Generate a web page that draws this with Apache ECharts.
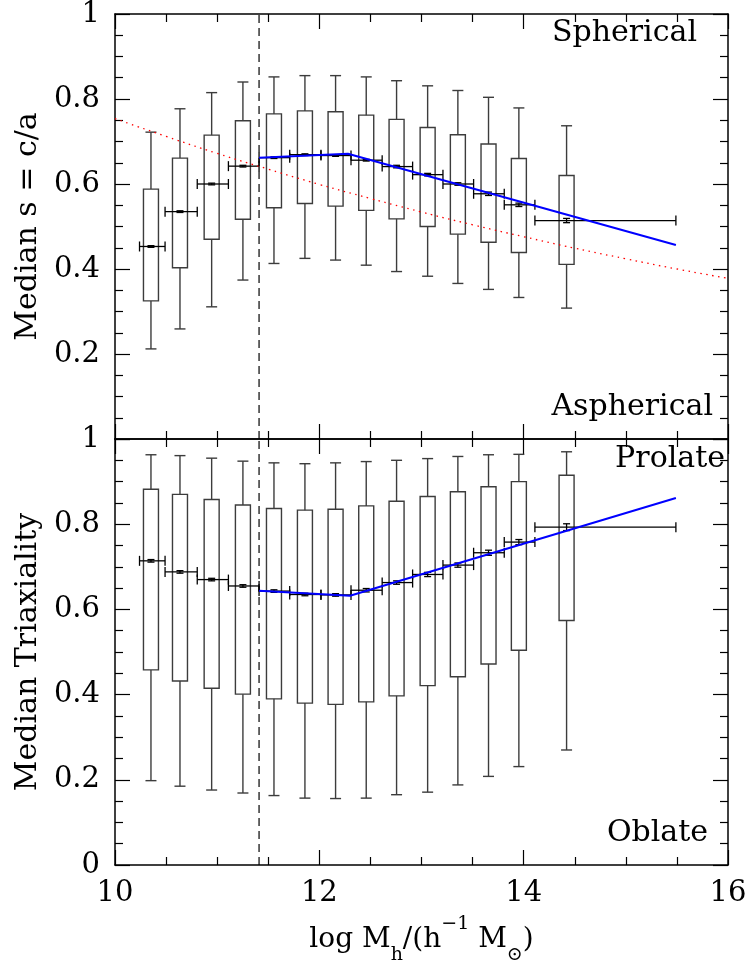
<!DOCTYPE html>
<html>
<head>
<meta charset="utf-8">
<script src="https://cdn.jsdelivr.net/npm/echarts@6.0.0/dist/echarts.min.js"></script>
<style>
html,body{margin:0;padding:0;background:#fff;}
#chart{width:750px;height:965px;}
</style>
</head>
<body>
<div id="chart"></div>
<script>
// ---- data ----
const binCenters = [10.352,10.636,10.946,11.252,11.556,11.859,12.159,12.459,12.756,13.06,13.356,13.656,13.953,14.42];
const binLo = [10.24,10.49,10.805,11.11,11.41,11.71,12.016,12.31,12.615,12.913,13.21,13.51,13.81,14.11];
const binHi = [10.49,10.805,11.11,11.41,11.71,12.016,12.31,12.615,12.913,13.21,13.51,13.81,14.11,15.49];

// top panel: s = c/a
const sWhiskerHi = [0.722,0.777,0.815,0.840,0.852,0.855,0.855,0.852,0.843,0.831,0.820,0.804,0.779,0.737];
const sQ3        = [0.588,0.661,0.715,0.749,0.765,0.772,0.770,0.762,0.752,0.733,0.716,0.694,0.660,0.620];
const sMedian    = [0.453,0.535,0.600,0.642,0.662,0.669,0.667,0.656,0.641,0.622,0.600,0.577,0.551,0.514];
const sQ1        = [0.325,0.403,0.470,0.517,0.544,0.554,0.548,0.538,0.518,0.500,0.482,0.463,0.439,0.411];
const sWhiskerLo = [0.212,0.259,0.311,0.374,0.413,0.425,0.421,0.409,0.394,0.383,0.366,0.352,0.333,0.308];
const sMedErr    = [0.002,0.002,0.002,0.002,0.002,0.002,0.002,0.002,0.003,0.003,0.003,0.004,0.004,0.005];

// bottom panel: triaxiality
const tWhiskerHi = [0.963,0.961,0.955,0.948,0.944,0.942,0.944,0.947,0.950,0.954,0.959,0.963,0.964,0.970];
const tQ3        = [0.882,0.870,0.858,0.845,0.837,0.833,0.835,0.843,0.854,0.865,0.876,0.888,0.900,0.915];
const tMedian    = [0.714,0.688,0.670,0.655,0.643,0.635,0.634,0.645,0.663,0.682,0.704,0.733,0.758,0.793];
const tQ1        = [0.458,0.432,0.415,0.401,0.390,0.380,0.377,0.383,0.397,0.421,0.442,0.472,0.504,0.574];
const tWhiskerLo = [0.198,0.185,0.176,0.169,0.163,0.157,0.156,0.157,0.165,0.171,0.188,0.208,0.231,0.270];
const tMedErr    = [0.003,0.003,0.003,0.003,0.003,0.003,0.003,0.004,0.004,0.005,0.005,0.006,0.006,0.008];

// blue fit lines
const sFitX = [11.41, 12.28, 15.49];
const sFitY = [0.662, 0.671, 0.4565];
const tFitX = [11.41, 12.30, 15.49];
const tFitY = [0.644, 0.632, 0.8615];

// red dotted curve (top panel)
const redX = [10,10.5,11,11.5,12,12.5,13,13.5,14,14.5,15,15.5,16];
const redY = [0.754,0.712,0.672,0.635,0.599,0.566,0.534,0.504,0.476,0.449,0.424,0.400,0.378];

// vertical dashed cut
const cutX = 11.41;

// axis ticks
const xTickInterval = 2;
const yTickInterval = 0.2;

// ---- chart ----
const FONT = 'DejaVu Serif';
const zip = (a,b)=>a.map((v,i)=>[v,b[i]]);

function boxData(wl,q1,md,q3,wh,err){
  return binCenters.map((c,i)=>[c,wl[i],q1[i],md[i],q3[i],wh[i],binLo[i],binHi[i],err[i]]);
}

function boxRender(params, api){
  const c=api.value(0), wl=api.value(1), q1=api.value(2), md=api.value(3), q3=api.value(4), wh=api.value(5),
        lo=api.value(6), hi=api.value(7), er=api.value(8);
  const P=(x,y)=>api.coord([x,y]);
  const pWl=P(c,wl), pQ1=P(c,q1), pQ3=P(c,q3), pWh=P(c,wh), pL=P(lo,md), pH=P(hi,md), pEu=P(c,md+er), pEd=P(c,md-er);
  const hw=7.5, cw=5.5, ec=5, mc=3.5;
  const st={stroke:'#3c3c3c', lineWidth:1.4, fill:null};
  const hs={stroke:'#000', lineWidth:1.3};
  const L=(x1,y1,x2,y2,s)=>({type:'line', shape:{x1,y1,x2,y2}, style:s});
  return {type:'group', children:[
    L(pWh[0],pWh[1],pQ3[0],pQ3[1],st),
    L(pQ1[0],pQ1[1],pWl[0],pWl[1],st),
    L(pWh[0]-cw,pWh[1],pWh[0]+cw,pWh[1],st),
    L(pWl[0]-cw,pWl[1],pWl[0]+cw,pWl[1],st),
    {type:'rect', shape:{x:pQ3[0]-hw,y:pQ3[1],width:2*hw,height:pQ1[1]-pQ3[1]}, style:{stroke:'#3c3c3c',lineWidth:1.4,fill:'none'}},
    L(pL[0],pL[1],pH[0],pH[1],hs),
    L(pL[0],pL[1]-ec,pL[0],pL[1]+ec,hs),
    L(pH[0],pH[1]-ec,pH[0],pH[1]+ec,hs),
    L(pEu[0],pEu[1],pEd[0],pEd[1],hs),
    L(pEu[0]-mc,pEu[1],pEu[0]+mc,pEu[1],hs),
    L(pEd[0]-mc,pEd[1],pEd[0]+mc,pEd[1],hs)
  ]};
}

function xAxis(gridIndex, position, showLabel, extra){
  return Object.assign({
    type:'value', gridIndex, position, min:10, max:16, interval:xTickInterval,
    axisLine:{show:true, onZero:false, lineStyle:{color:'#000', width:1.5}},
    axisTick:{show:true, inside:true, length:15, lineStyle:{color:'#000', width:1.2}},
    minorTick:{show:true, splitNumber:4, length:8, lineStyle:{color:'#000', width:1.2}},
    splitLine:{show:false}, minorSplitLine:{show:false},
    axisLabel:{show:showLabel, fontFamily:FONT, fontSize:29, color:'#000', margin:14}
  }, extra||{});
}
function yAxis(gridIndex, position, showLabel, hideZero, extra){
  return Object.assign({
    type:'value', gridIndex, position, min:0, max:1, interval:yTickInterval,
    axisLine:{show:true, onZero:false, lineStyle:{color:'#000', width:1.5}},
    axisTick:{show:true, inside:true, length:15, lineStyle:{color:'#000', width:1.2}},
    minorTick:{show:true, splitNumber:4, length:8, lineStyle:{color:'#000', width:1.2}},
    splitLine:{show:false}, minorSplitLine:{show:false},
    axisLabel:{show:showLabel, fontFamily:FONT, fontSize:29, color:'#000', margin:15,
      formatter:(v)=> (hideZero && v===0) ? '' : String(+v.toFixed(2))}
  }, extra||{});
}

const chart = echarts.init(document.getElementById('chart'), null, {renderer:'canvas'});
const option = {
  backgroundColor:'#fff',
  animation:false,
  grid:[
    {left:115, top:14, width:613, height:425, containLabel:false, outerBoundsMode:'none'},
    {left:115, top:439, width:613, height:426, containLabel:false, outerBoundsMode:'none'}
  ],
  xAxis:[
    xAxis(0,'bottom',false),
    xAxis(0,'top',false),
    xAxis(1,'bottom',true,{
      name:'log M{sub|h}/(h{sup|−1} M{sub|⊙})',
      nameLocation:'middle', nameGap:50,
      nameTextStyle:{fontFamily:FONT, fontSize:28, color:'#000', lineHeight:50,
        rich:{
          sub:{fontFamily:FONT, fontSize:19, color:'#000', lineHeight:30, verticalAlign:'bottom'},
          sup:{fontFamily:FONT, fontSize:19, color:'#000', lineHeight:30, verticalAlign:'top'}
        }}
    }),
    xAxis(1,'top',false)
  ],
  yAxis:[
    yAxis(0,'left',true,true,{name:'Median s = c/a', nameLocation:'middle', nameGap:72, nameRotate:90,
      nameTextStyle:{fontFamily:FONT, fontSize:30, color:'#000'}}),
    yAxis(0,'right',false,true),
    yAxis(1,'left',true,false,{name:'Median Triaxiality', nameLocation:'middle', nameGap:72, nameRotate:90,
      nameTextStyle:{fontFamily:FONT, fontSize:30, color:'#000'}}),
    yAxis(1,'right',false,false)
  ],
  series:[
    {type:'custom', xAxisIndex:0, yAxisIndex:0, renderItem:boxRender, z:2,
      data:boxData(sWhiskerLo,sQ1,sMedian,sQ3,sWhiskerHi,sMedErr), encode:{x:[0,6,7], y:[1,5]}},
    {type:'custom', xAxisIndex:2, yAxisIndex:2, renderItem:boxRender, z:2,
      data:boxData(tWhiskerLo,tQ1,tMedian,tQ3,tWhiskerHi,tMedErr), encode:{x:[0,6,7], y:[1,5]}},
    {type:'line', xAxisIndex:0, yAxisIndex:0, data:zip(redX,redY), showSymbol:false, smooth:true, z:3,
      lineStyle:{color:'#ff0000', width:1.3, type:[1.5,4.5]}},
    {type:'line', xAxisIndex:0, yAxisIndex:0, data:[[cutX,0],[cutX,1]], showSymbol:false, z:3,
      lineStyle:{color:'#000', width:1.2, type:[8,5]}},
    {type:'line', xAxisIndex:2, yAxisIndex:2, data:[[cutX,0],[cutX,1]], showSymbol:false, z:3,
      lineStyle:{color:'#000', width:1.2, type:[8,5]}},
    {type:'line', xAxisIndex:0, yAxisIndex:0, data:zip(sFitX,sFitY), showSymbol:false, z:4,
      lineStyle:{color:'#0000ff', width:2}},
    {type:'line', xAxisIndex:2, yAxisIndex:2, data:zip(tFitX,tFitY), showSymbol:false, z:4,
      lineStyle:{color:'#0000ff', width:2}}
  ],
  graphic:[
    {type:'text', x:697, y:33, style:{text:'Spherical', font:'30px "DejaVu Serif"', fill:'#000', align:'right', verticalAlign:'middle'}},
    {type:'text', x:713, y:407, style:{text:'Aspherical', font:'30px "DejaVu Serif"', fill:'#000', align:'right', verticalAlign:'middle'}},
    {type:'text', x:725, y:459, style:{text:'Prolate', font:'30px "DejaVu Serif"', fill:'#000', align:'right', verticalAlign:'middle'}},
    {type:'text', x:708, y:833, style:{text:'Oblate', font:'30px "DejaVu Serif"', fill:'#000', align:'right', verticalAlign:'middle'}}
  ]
};
chart.setOption(option);
</script>
</body>
</html>
